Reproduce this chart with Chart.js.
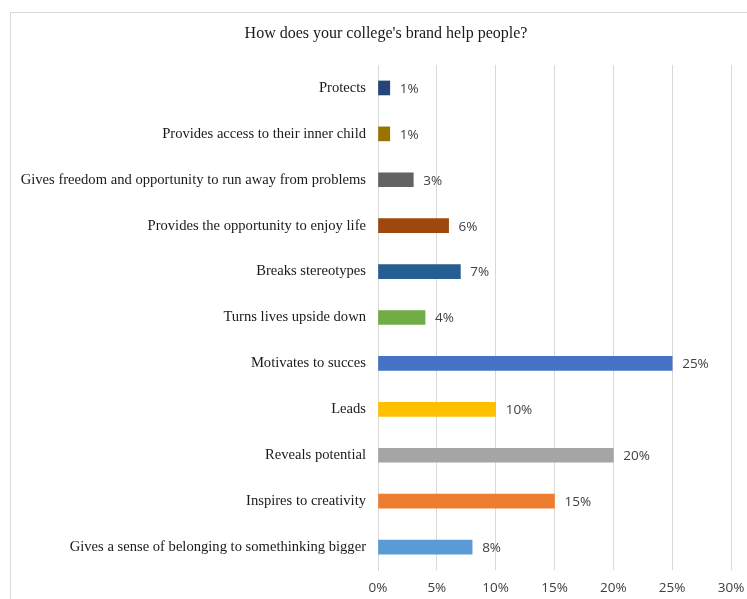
<!DOCTYPE html>
<html>
<head>
<meta charset="utf-8">
<title>College brand</title>
<script src="https://cdn.jsdelivr.net/npm/chart.js@4"></script>
<style>
  html, body { margin: 0; padding: 0; background: #fff; }
  #wrap { position: relative; width: 747px; height: 599px; overflow: hidden; }
  #frame {
    position: absolute; left: 10px; top: 12px; width: 800px; height: 700px;
    border-left: 1px solid #d9d9d9; border-top: 1px solid #d9d9d9;
  }
  #grafico { position: absolute; left: 0; top: 0; }
</style>
</head>
<body>
<div id="wrap">
  <div id="frame"></div>
  <canvas id="grafico" width="747" height="599"></canvas>
</div>
<script>
// respuestas (de arriba hacia abajo)
const categorias = [
  'Protects',
  'Provides access to their inner child',
  'Gives freedom and opportunity to run away from problems',
  'Provides the opportunity to enjoy life',
  'Breaks stereotypes',
  'Turns lives upside down',
  'Motivates to succes',
  'Leads',
  'Reveals potential',
  'Inspires to creativity',
  'Gives a sense of belonging to somethinking bigger'
];
const porcentajes = [1, 1, 3, 6, 7, 4, 25, 10, 20, 15, 8];
const colores = [
  '#264478', '#997300', '#636363', '#9e480e', '#255e91', '#70ad47',
  '#4472c4', '#ffc000', '#a5a5a5', '#ed7d31', '#5b9bd5'
];
const ticksX = [0, 5, 10, 15, 20, 25, 30];
const titulo = "How does your college's brand help people?";

// titulo centrado sobre el grafico completo
const tituloGrafico = {
  id: 'tituloGrafico',
  afterDraw(chart) {
    const ctx = chart.ctx;
    ctx.save();
    ctx.font = '16px "Liberation Serif", "Times New Roman", serif';
    ctx.fillStyle = '#1a1a1a';
    ctx.textAlign = 'center';
    ctx.textBaseline = 'middle';
    ctx.fillText(titulo, 386, 34);
    ctx.restore();
  }
};

// etiquetas de valor a la derecha de cada barra
const etiquetasValor = {
  id: 'etiquetasValor',
  afterDatasetsDraw(chart) {
    const ctx = chart.ctx;
    const meta = chart.getDatasetMeta(0);
    ctx.save();
    ctx.font = '13.5px "Open Sans", sans-serif';
    ctx.fillStyle = '#404040';
    ctx.textAlign = 'left';
    ctx.textBaseline = 'middle';
    meta.data.forEach(function (bar, i) {
      ctx.fillText(porcentajes[i] + '%', bar.x + 10, bar.y + 1);
    });
    ctx.restore();
  }
};

const ctx = document.getElementById('grafico');
new Chart(ctx, {
  type: 'bar',
  data: {
    labels: categorias,
    datasets: [{
      data: porcentajes,
      backgroundColor: colores,
      borderWidth: 0,
      barThickness: 14
    }]
  },
  plugins: [etiquetasValor, tituloGrafico],
  options: {
    indexAxis: 'y',
    responsive: false,
    animation: false,
    layout: { padding: { top: 65, right: 16, left: 0, bottom: 0 } },
    plugins: {
      legend: { display: false },
      tooltip: { enabled: false },
      title: { display: false }
    },
    scales: {
      x: {
        min: 0,
        max: 30,
        afterBuildTicks: function (scale) {
          scale.ticks = ticksX.map(v => ({ value: v }));
        },
        afterFit: function (scale) {
          scale.height = 29;
          scale.paddingLeft = 0;
          scale.paddingRight = 0;
        },
        grid: { color: '#d9d9d9', lineWidth: 1, drawTicks: false },
        border: { display: false },
        ticks: {
          padding: 10,
          color: '#404040',
          font: { family: '"Open Sans", sans-serif', size: 13.5 },
          callback: v => v + '%'
        }
      },
      y: {
        afterFit: function (scale) { scale.width = 378; },
        grid: { display: false, drawTicks: false },
        border: { display: true, color: '#d9d9d9' },
        ticks: {
          padding: 12,
          color: '#1a1a1a',
          autoSkip: false,
          font: { family: '"Liberation Serif", "Times New Roman", serif', size: 14.6 }
        }
      }
    }
  }
});
</script>
</body>
</html>
